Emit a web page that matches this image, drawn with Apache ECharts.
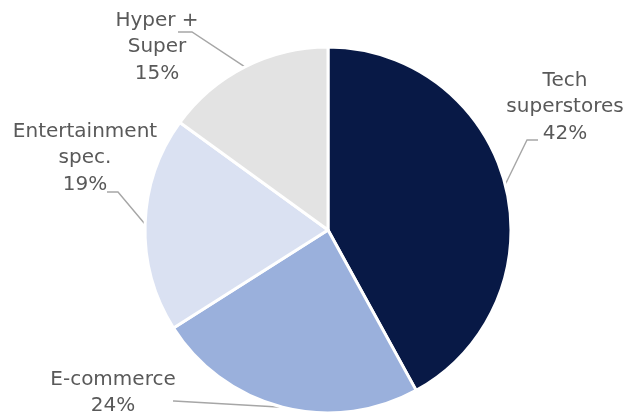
<!DOCTYPE html>
<html>
<head>
<meta charset="utf-8">
<script src="https://cdn.jsdelivr.net/npm/echarts@6/dist/echarts.min.js"></script>
<style>
  html, body { margin: 0; padding: 0; background: #ffffff; }
  #chart { width: 632px; height: 413px; }
</style>
</head>
<body>
<div id="chart"></div>
<script>
// Channel share of sales (%), clockwise from 12 o'clock
const categories = ['Tech\nsuperstores', 'E-commerce', 'Entertainment\nspec.', 'Hyper +\nSuper'];
const shares = [42, 24, 19, 15];
const sliceColors = ['#081946', '#9AB0DC', '#DAE1F2', '#E3E3E3'];

// Where each label block sits and where its leader line bends / ends
const labelPlacement = [
  { x: 565, y: 107, bend: [527, 140], end: [538, 140] },
  { x: 113, y: 393, bend: [174, 401], end: [173, 401] },
  { x: 85,  y: 158, bend: [118, 192], end: [107, 192] },
  { x: 157, y: 47,  bend: [192, 32],  end: [178, 32] }
];

const chart = echarts.init(document.getElementById('chart'), null, { renderer: 'canvas' });

chart.setOption({
  animation: false,
  backgroundColor: '#ffffff',
  series: [{
    type: 'pie',
    center: [328, 230],
    radius: 183,
    startAngle: 90,
    clockwise: true,
    data: categories.map((name, i) => ({
      name: name,
      value: shares[i],
      itemStyle: { color: sliceColors[i] }
    })),
    itemStyle: { borderColor: '#ffffff', borderWidth: 3 },
    label: {
      show: true,
      position: 'outside',
      formatter: p => p.name + '\n' + p.value + '%',
      fontFamily: 'DejaVu Sans',
      fontSize: 20,
      lineHeight: 26.5,
      color: '#595959',
      align: 'center',
      overflow: 'none'
    },
    labelLine: {
      show: true,
      length: 15,
      length2: 10,
      lineStyle: { color: '#A6A6A6', width: 1.4 }
    },
    labelLayout: function (params) {
      const lp = labelPlacement[params.dataIndex];
      const start = params.labelLinePoints ? params.labelLinePoints[0] : lp.bend;
      return {
        x: lp.x,
        y: lp.y,
        align: 'center',
        verticalAlign: 'middle',
        labelLinePoints: [start, lp.bend, lp.end]
      };
    },
    emphasis: { disabled: true }
  }]
});
</script>
</body>
</html>
